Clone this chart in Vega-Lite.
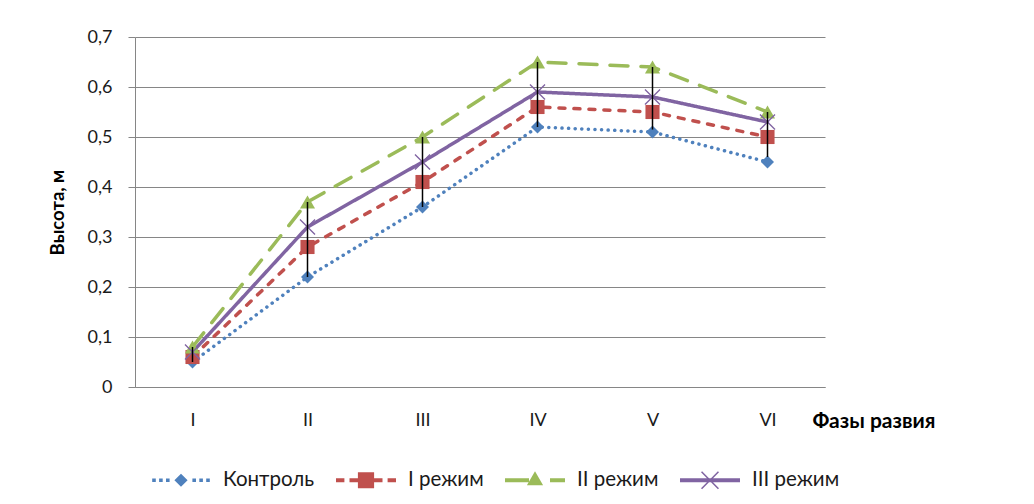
{
  "$schema": "https://vega.github.io/schema/vega-lite/v6.json",
  "width": 690,
  "height": 350,
  "autosize": {"type": "none"},
  "padding": {"left": 135, "top": 37, "right": 209, "bottom": 117},
  "background": "white",
  "config": {
    "font": "Lato",
    "view": {"stroke": null},
    "axis": {
      "domainColor": "#868686",
      "domainWidth": 1,
      "tickColor": "#868686",
      "gridColor": "#868686",
      "gridWidth": 1,
      "labelFont": "Lato",
      "labelFontSize": 18,
      "labelColor": "#1a1a1a",
      "titleFont": "Lato",
      "titleFontSize": 18.5,
      "titleFontWeight": "bold",
      "titleColor": "#000000"
    }
  },
  "datasets": {
    "main": [
      {"phase": "I", "series": "Контроль", "h": 0.05},
      {"phase": "II", "series": "Контроль", "h": 0.22},
      {"phase": "III", "series": "Контроль", "h": 0.36},
      {"phase": "IV", "series": "Контроль", "h": 0.52},
      {"phase": "V", "series": "Контроль", "h": 0.51},
      {"phase": "VI", "series": "Контроль", "h": 0.45},
      {"phase": "I", "series": "I режим", "h": 0.06},
      {"phase": "II", "series": "I режим", "h": 0.28},
      {"phase": "III", "series": "I режим", "h": 0.41},
      {"phase": "IV", "series": "I режим", "h": 0.56},
      {"phase": "V", "series": "I режим", "h": 0.55},
      {"phase": "VI", "series": "I режим", "h": 0.50},
      {"phase": "I", "series": "II режим", "h": 0.08},
      {"phase": "II", "series": "II режим", "h": 0.37},
      {"phase": "III", "series": "II режим", "h": 0.50},
      {"phase": "IV", "series": "II режим", "h": 0.65},
      {"phase": "V", "series": "II режим", "h": 0.64},
      {"phase": "VI", "series": "II режим", "h": 0.55},
      {"phase": "I", "series": "III режим", "h": 0.07},
      {"phase": "II", "series": "III режим", "h": 0.32},
      {"phase": "III", "series": "III режим", "h": 0.45},
      {"phase": "IV", "series": "III режим", "h": 0.59},
      {"phase": "V", "series": "III режим", "h": 0.58},
      {"phase": "VI", "series": "III режим", "h": 0.53}
    ],
    "err": [
      {"phase": "I", "low": 0.05, "high": 0.08},
      {"phase": "II", "low": 0.22, "high": 0.37},
      {"phase": "III", "low": 0.36, "high": 0.50},
      {"phase": "IV", "low": 0.52, "high": 0.65},
      {"phase": "V", "low": 0.515, "high": 0.64},
      {"phase": "VI", "low": 0.46, "high": 0.55}
    ]
  },
  "encoding": {
    "x": {
      "field": "phase", "type": "ordinal",
      "sort": ["I", "II", "III", "IV", "V", "VI"],
      "scale": {"type": "point", "padding": 0.5},
      "axis": {
        "title": "Фазы развия",
        "titleX": 677, "titleY": 34, "titleAlign": "left", "titleBaseline": "middle", "titleAngle": 0,
        "titleFontSize": 21,
        "labelAngle": 0, "ticks": false, "labelPadding": 24, "grid": false
      }
    },
    "y": {
      "field": "h", "type": "quantitative",
      "scale": {"domain": [0, 0.7], "nice": false},
      "axis": {
        "title": "Высота, м",
        "values": [0, 0.1, 0.2, 0.3, 0.4, 0.5, 0.6, 0.7],
        "labelExpr": "replace(format(datum.value, '.1~f'), '.', ',')",
        "tickSize": 7, "labelPadding": 16, "titlePadding": 20, "grid": true
      }
    }
  },
  "layer": [
    {
      "data": {"name": "main"},
      "mark": {"type": "line", "strokeWidth": 3.5, "strokeCap": "round"},
      "encoding": {
        "color": {
          "field": "series", "type": "nominal",
          "scale": {"domain": ["Контроль", "I режим", "II режим", "III режим"], "range": ["#4F81BD", "#C0504D", "#9BBB59", "#8064A2"]},
          "legend": null
        },
        "strokeDash": {
          "field": "series", "type": "nominal",
          "scale": {"domain": ["Контроль", "I режим", "II режим", "III режим"], "range": [[0.1, 6.5], [6, 9], [18, 13], [1, 0]]},
          "legend": null
        }
      }
    },
    {
      "data": {"name": "main"},
      "mark": {"type": "point", "filled": true, "opacity": 1},
      "encoding": {
        "color": {
          "field": "series", "type": "nominal",
          "scale": {"domain": ["Контроль", "I режим", "II режим", "III режим"], "range": ["#4F81BD", "#C0504D", "#9BBB59", "#8064A2"]},
          "legend": null
        },
        "shape": {
          "field": "series", "type": "nominal",
          "scale": {"domain": ["Контроль", "I режим", "II режим", "III режим"], "range": ["diamond", "square", "triangle-up", "M-1,-0.88L-0.88,-1L0,-0.12L0.88,-1L1,-0.88L0.12,0L1,0.88L0.88,1L0,0.12L-0.88,1L-1,0.88L-0.12,0Z"]},
          "legend": null
        },
        "size": {
          "field": "series", "type": "nominal",
          "scale": {"domain": ["Контроль", "I режим", "II режим", "III режим"], "range": [170, 256, 240, 196]},
          "legend": null
        }
      }
    },
    {
      "data": {"name": "err"},
      "mark": {"type": "rule", "color": "#000000", "strokeWidth": 1.5},
      "encoding": {
        "y": {"field": "low", "type": "quantitative"},
        "y2": {"field": "high"}
      }
    },
    {
      "data": {"name": "main"},
      "transform": [{"filter": "datum.h > 1"}],
      "mark": {"type": "point", "filled": true, "opacity": 1},
      "encoding": {
        "color": {
          "field": "series", "type": "nominal",
          "scale": {"domain": ["Контроль", "I режим", "II режим", "III режим"], "range": ["#4F81BD", "#C0504D", "#9BBB59", "#8064A2"]},
          "legend": {
            "orient": "none", "legendX": 16, "legendY": 413, "direction": "horizontal", "columns": 4,
            "title": null, "symbolSize": 3600, "symbolStrokeWidth": 0, "symbolOpacity": 1,
            "labelFont": "Lato", "labelFontSize": 20.5, "labelColor": "#1a1a1a", "labelOffset": 12, "columnPadding": 21
          }
        },
        "shape": {
          "field": "series", "type": "nominal",
          "scale": {"domain": ["Контроль", "I режим", "II режим", "III режим"], "range": [
            "M-0.22,0L0,-0.22L0.22,0L0,0.22ZM-0.96,-0.06H-0.84V0.06H-0.96ZM-0.73,-0.06H-0.61V0.06H-0.73ZM-0.5,-0.06H-0.38V0.06H-0.5ZM0.38,-0.06H0.5V0.06H0.38ZM0.61,-0.06H0.73V0.06H0.61ZM0.84,-0.06H0.96V0.06H0.84Z",
            "M-0.27,-0.27H0.27V0.27H-0.27ZM-1,-0.065H-0.72V0.065H-1ZM-0.55,-0.065H-0.26V0.065H-0.55ZM0.26,-0.065H0.55V0.065H0.26ZM0.72,-0.065H1V0.065H0.72Z",
            "M0,-0.3L0.27,0.17H-0.27ZM-1,-0.065H-0.2V0.065H-1ZM0.5,-0.065H1V0.065H0.5Z",
            "M-1,-0.065H1V0.065H-1ZM-0.3,-0.264L-0.264,-0.3L0,-0.036L0.264,-0.3L0.3,-0.264L0.036,0L0.3,0.264L0.264,0.3L0,0.036L-0.264,0.3L-0.3,0.264L-0.036,0Z"
          ]},
          "legend": {
            "orient": "none", "legendX": 16, "legendY": 413, "direction": "horizontal", "columns": 4,
            "title": null, "symbolSize": 3600, "symbolStrokeWidth": 0, "symbolOpacity": 1,
            "labelFont": "Lato", "labelFontSize": 20.5, "labelColor": "#1a1a1a", "labelOffset": 12, "columnPadding": 21
          }
        }
      }
    }
  ],
  "resolve": {"scale": {"color": "independent", "shape": "independent", "size": "independent", "strokeDash": "independent"}}
}
